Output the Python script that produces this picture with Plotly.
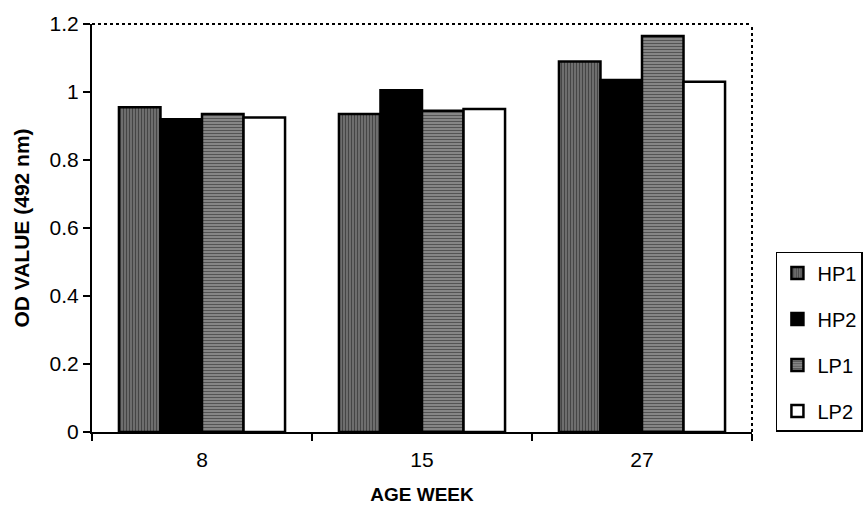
import plotly.graph_objects as go

categories = ["8", "15", "27"]
series_names = ["HP1", "HP2", "LP1", "LP2"]
hp1 = [0.955, 0.935, 1.09]
hp2 = [0.92, 1.005, 1.035]
lp1 = [0.935, 0.945, 1.165]
lp2 = [0.925, 0.95, 1.03]
y_ticks = [0, 0.2, 0.4, 0.6, 0.8, 1, 1.2]
y_tick_labels = ["0", "0.2", "0.4", "0.6", "0.8", "1", "1.2"]

values = [hp1, hp2, lp1, lp2]
styles = [
    dict(color="#888888", pattern=dict(shape="|", fgcolor="black", bgcolor="#8a8a8a", size=3, solidity=0.6)),
    dict(color="black"),
    dict(color="#999999", pattern=dict(shape="-", fgcolor="black", bgcolor="#a8a8a8", size=3, solidity=0.6)),
    dict(color="white"),
]

fig = go.Figure()
for name, vals, st in zip(series_names, values, styles):
    fig.add_trace(go.Bar(
        x=categories, y=vals, name=name, legendgroup=name,
        marker=dict(line=dict(color="black", width=2.5), **st),
    ))

fig.update_layout(
    width=866, height=505,
    margin=dict(l=92, r=114, t=24, b=73, autoexpand=False),
    paper_bgcolor="white", plot_bgcolor="white",
    barmode="group", bargap=0.245, bargroupgap=0,
    font=dict(family="Liberation Sans, Arial, sans-serif", size=20, color="black"),
    showlegend=True,
    legend=dict(
        xref="container", yref="container",
        x=0.896, xanchor="left", y=0.1446, yanchor="bottom",
        bordercolor="black", borderwidth=1.5, bgcolor="white",
        font=dict(size=20), traceorder="grouped", tracegroupgap=17,
        itemwidth=30,
    ),
    xaxis=dict(
        type="category", showline=True, linecolor="black", linewidth=2,
        ticks="outside", tickson="boundaries", ticklen=7, tickcolor="black", tickwidth=1.5,
        tickfont=dict(size=21), ticklabelstandoff=8,
        title=dict(text="<b>AGE WEEK</b>", font=dict(size=19), standoff=18),
        showgrid=False,
    ),
    yaxis=dict(
        range=[0, 1.2], tickvals=y_ticks, ticktext=y_tick_labels,
        showline=True, linecolor="black", linewidth=2,
        ticks="outside", ticklen=7, tickcolor="black", tickwidth=1.5,
        tickfont=dict(size=21),
        title=dict(text="<b>OD VALUE (492 nm)</b>", font=dict(size=21), standoff=14),
        showgrid=False, zeroline=False,
    ),
    shapes=[
        dict(type="line", xref="paper", yref="paper", x0=0, x1=1, y0=1, y1=1,
             line=dict(color="black", width=2, dash="dot")),
        dict(type="line", xref="paper", yref="paper", x0=1, x1=1, y0=0, y1=1,
             line=dict(color="black", width=2, dash="dot")),
    ],
)

fig.write_html("out.html")
